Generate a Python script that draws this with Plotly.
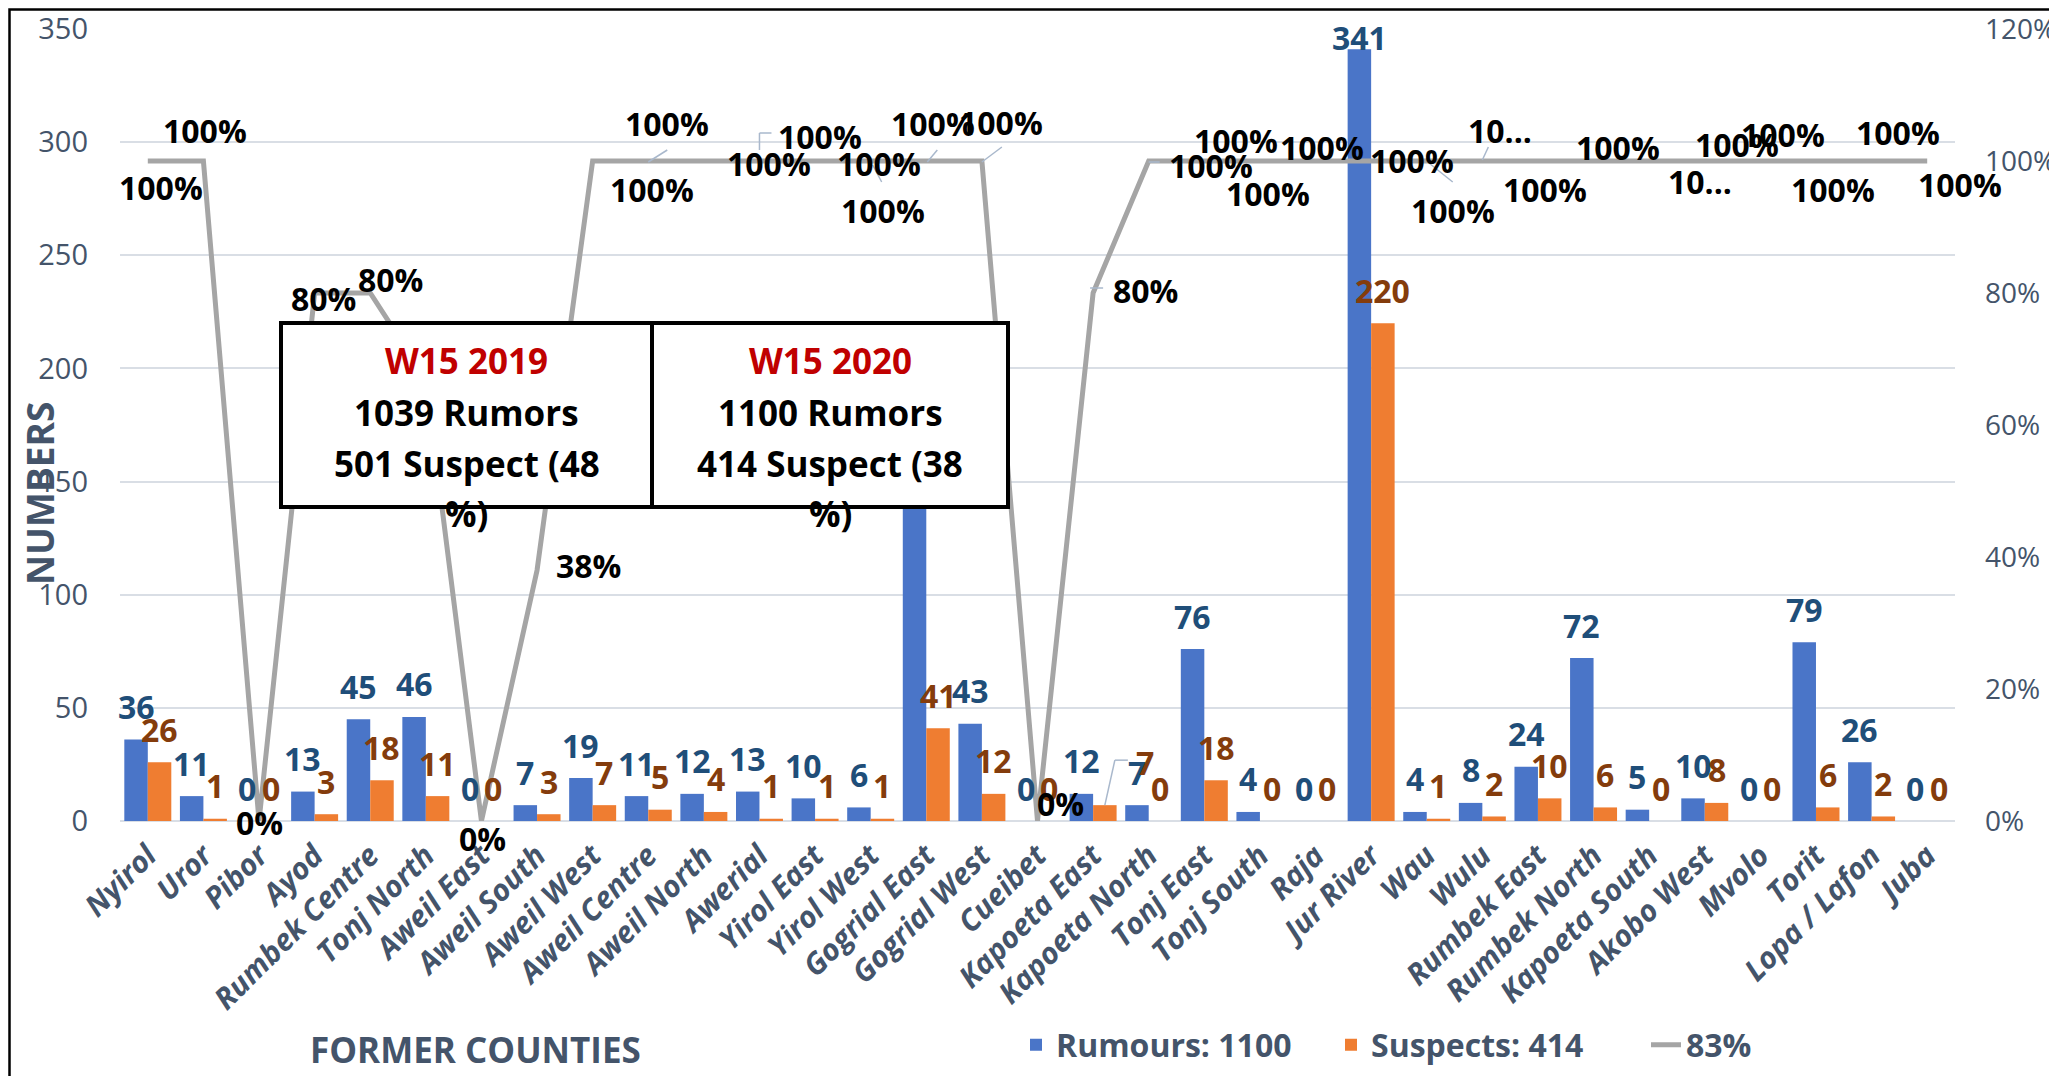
import plotly.graph_objects as go

# ---------------- data ----------------
counties = ["Nyirol", "Uror", "Pibor", "Ayod", "Rumbek Centre", "Tonj North", "Aweil East",
            "Aweil South", "Aweil West", "Aweil Centre", "Aweil North", "Awerial", "Yirol East",
            "Yirol West", "Gogrial East", "Gogrial West", "Cueibet", "Kapoeta East",
            "Kapoeta North", "Tonj East", "Tonj South", "Raja", "Jur River", "Wau", "Wulu",
            "Rumbek East", "Rumbek North", "Kapoeta South", "Akobo West", "Mvolo", "Torit",
            "Lopa / Lafon", "Juba"]
rumours = [36, 11, 0, 13, 45, 46, 0, 7, 19, 11, 12, 13, 10, 6, 160, 43, 0, 12, 7, 76, 4, 0,
           341, 4, 8, 24, 72, 5, 10, 0, 79, 26, 0]
suspects = [26, 1, 0, 3, 18, 11, 0, 3, 7, 5, 4, 1, 1, 1, 41, 12, 0, 7, 0, 18, 0, 0,
            220, 1, 2, 10, 6, 0, 8, 0, 6, 2, 0]
pct = [1.0, 1.0, 0.0, 0.8, 0.8, 0.67, 0.0, 0.38, 1.0, 1.0, 1.0, 1.0, 1.0, 1.0, 1.0, 1.0,
       0.0, 0.8, 1.0, 1.0, 1.0, 1.0, 1.0, 1.0, 1.0, 1.0, 1.0, 1.0, 1.0, 1.0, 1.0, 1.0, 1.0]
overall_pct = "83%"

left_ticks = [0, 50, 100, 150, 200, 250, 300, 350]
right_ticks = [0, 0.2, 0.4, 0.6, 0.8, 1.0, 1.2]

box_years = ["W15 2019", "W15 2020"]
box_rumors = [1039, 1100]
box_suspects = [501, 414]
box_suspect_pct = [48, 38]

# labels truncated in the original
truncated_line_labels = {"Wulu", "Kapoeta South"}

# ---------------- layout helpers ----------------
# the page body has an 8px margin: figure pixel = page pixel - 8
OFF = 8
FW, FH = 2049, 1068
PLOT_X0, PLOT_X1, PLOT_Y0, PLOT_Y1 = 120, 1955, 29, 821     # page pixels
L = PLOT_X0 - OFF
T = PLOT_Y0 - OFF
R = FW - (PLOT_X1 - OFF)
B = FH - (PLOT_Y1 - OFF)
PW, PH = PLOT_X1 - PLOT_X0, PLOT_Y1 - PLOT_Y0


def fx(px):
    return (px - PLOT_X0) / PW


def fy(py):
    return (PLOT_Y1 - py) / PH


FONT = "Open Sans"
SLATE = "#44546A"
LEADER = "#A9B8CC"
BAR_HALF = 11.75   # horizontal offset of each bar of a group from the category centre
BAR_LABEL_UP = 33

# moved bar labels: (series, county) -> (extra x shift, y shift)
bar_label_moves = {("rumours", "Jur River"): (0, 12), ("suspects", "Kapoeta East"): (40, 43)}

# pixel offsets of the line data labels (dx right, dy down)
line_label_offsets = [
    (13, 26), (2, -31), (0, 1), (9, 5), (20, -14), (0, 0), (1, 17), (51, -5),
    (59, 28), (19, -38), (65, 2), (61, -25), (64, 2), (12, 49), (7, -38), (19, -39),
    (23, -18), (52, -3), (62, 4), (32, -21), (8, 32), (6, -14), (41, -1), (26, 49),
    (18, -31), (7, 28), (24, -14), (51, 20), (32, -17), (23, -27), (17, 28), (26, -29),
    (33, 23)]

# leader lines of moved line labels: county -> list of segments in pixels (dx0, dy0, dx1, dy1)
line_leaders = {
    "Aweil Centre": [(0, 1, 19, -11)],
    "Awerial": [(0, -11, 0, -28), (0, -28, 12, -28)],
    "Yirol West": [(2, 4, 11, 21)],
    "Gogrial East": [(1, 1, 11, -11)],
    "Gogrial West": [(0, 1, 20, -14)],
    "Kapoeta East": [(-3, -5, 10, -5)],
    "Kapoeta North": [(0, 1, 11, 1)],
    "Wau": [(1, 1, 26, 21)],
    "Wulu": [(0, -1, 6, -14)],
}
bar_leaders = {("suspects", "Kapoeta East"): [(0, 0, 10, -45), (10, -45, 23, -45)]}

fig = go.Figure()

fig.add_trace(go.Bar(
    x=counties, y=rumours, name=f"Rumours: {sum(rumours)}",
    marker=dict(color="#4A75C8", line=dict(width=0)), yaxis="y"))
fig.add_trace(go.Bar(
    x=counties, y=suspects, name=f"Suspects: {sum(suspects)}",
    marker=dict(color="#EF7D31", line=dict(width=0)), yaxis="y"))
fig.add_trace(go.Scatter(
    x=counties, y=pct, name=overall_pct, mode="lines",
    line=dict(color="#A5A5A5", width=5),
    yaxis="y2", cliponaxis=False))

annotations = []
shapes = []


def leader(xval, yval, yref, base_dx, segs):
    for dx0, dy0, dx1, dy1 in segs:
        shapes.append(dict(
            type="line", xref="x", yref=yref, xsizemode="pixel", ysizemode="pixel",
            xanchor=xval, yanchor=yval, x0=base_dx + dx0, x1=base_dx + dx1,
            y0=-dy0, y1=-dy1, line=dict(color=LEADER, width=1.5), layer="above"))


# bar data labels
for key, vals, shift, col in (("rumours", rumours, -BAR_HALF, "#1F4E79"),
                              ("suspects", suspects, BAR_HALF, "#843C0C")):
    for c, v in zip(counties, vals):
        ex, up = bar_label_moves.get((key, c), (0, BAR_LABEL_UP))
        annotations.append(dict(
            x=c, y=v, xref="x", yref="y", xshift=shift + ex, yshift=up, text=str(v),
            showarrow=False, xanchor="center", yanchor="middle",
            font=dict(family=FONT, size=32, color=col, weight="bold")))
        if (key, c) in bar_leaders:
            leader(c, v, "y", shift, bar_leaders[(key, c)])

# line data labels
for c, v, (dx, dy) in zip(counties, pct, line_label_offsets):
    txt = f"{round(v * 100)}%"
    if c in truncated_line_labels:
        txt = txt[:2] + "..."
    annotations.append(dict(
        x=c, y=v, xref="x", yref="y2", xshift=dx, yshift=-dy, text=txt,
        showarrow=False, xanchor="center", yanchor="middle",
        font=dict(family=FONT, size=32, color="black", weight="bold")))
    if c in line_leaders:
        leader(c, v, "y2", 0, line_leaders[c])

# text boxes (drawn after the labels so that they cover what they cover in the original)
BW = 4
box_x = [(279, 654), (650, 1010)]
box_y = (321, 509)
line_y = [360, 412, 463, 513]
for (x0, x1) in box_x:
    annotations.append(dict(
        x=fx((x0 + x1) / 2), y=fy((box_y[0] + box_y[1]) / 2), xref="paper", yref="paper",
        text=" ", showarrow=False, xanchor="center", yanchor="middle",
        width=(x1 - x0) - 2 * BW, height=(box_y[1] - box_y[0]) - 2 * BW,
        bgcolor="white", bordercolor="black", borderwidth=BW, borderpad=0,
        font=dict(family=FONT, size=10)))
for (x0, x1), yr, nr, ns, sp in zip(box_x, box_years, box_rumors, box_suspects, box_suspect_pct):
    cx = fx((x0 + x1) / 2)
    lines = [(yr, "#C00000"), (f"{nr} Rumors", "black"), (f"{ns} Suspect ({sp}", "black"),
             ("%)", "black")]
    for (t, col), ly in zip(lines, line_y):
        annotations.append(dict(
            x=cx, y=fy(ly), xref="paper", yref="paper", text=t, showarrow=False,
            xanchor="center", yanchor="middle",
            font=dict(family=FONT, size=35, color=col, weight="bold")))

# axis titles
annotations.append(dict(x=fx(39), y=fy(494), xref="paper", yref="paper", text="NUMBERS",
                        textangle=-90, showarrow=False, xanchor="center", yanchor="middle",
                        font=dict(family=FONT, size=37, color=SLATE, weight="bold")))
annotations.append(dict(x=fx(475), y=fy(1049), xref="paper", yref="paper",
                        text="FORMER COUNTIES", showarrow=False, xanchor="center",
                        yanchor="middle",
                        font=dict(family=FONT, size=35, color=SLATE, weight="bold")))

# outer chart border (top and left edges visible)
shapes.append(dict(type="rect", xref="paper", yref="paper",
                   x0=fx(OFF + 1.5), x1=fx(2090), y0=fy(1110), y1=fy(OFF + 1.5),
                   line=dict(color="black", width=2.5), fillcolor="rgba(0,0,0,0)",
                   layer="below"))

fig.update_layout(
    width=FW, height=FH,
    margin=dict(l=L, r=R, t=T, b=B, autoexpand=False),
    paper_bgcolor="white", plot_bgcolor="white",
    barmode="group", bargap=0.155, bargroupgap=0,
    font=dict(family=FONT, color=SLATE),
    showlegend=True,
    legend=dict(orientation="h", x=fx(1016), y=fy(1045), xanchor="left", yanchor="middle",
                font=dict(family=FONT, size=32, color=SLATE, weight="bold"),
                bgcolor="rgba(0,0,0,0)", entrywidth=270, entrywidthmode="pixels",
                traceorder="normal"),
    xaxis=dict(type="category", range=[-0.5, len(counties) - 0.5], autorange=False,
               tickangle=-45, showgrid=False, showline=False,
               ticks="", automargin=False, ticklabelstandoff=10,
               tickfont=dict(family=FONT, size=30, color=SLATE, weight="bold",
                             style="italic")),
    yaxis=dict(range=[0, 350], tickvals=left_ticks, showgrid=True, gridcolor="#D9DEE5",
               gridwidth=2, zeroline=True, zerolinecolor="#D9DEE5", zerolinewidth=2,
               showline=False, ticks="", ticklabelstandoff=31, automargin=False,
               tickfont=dict(family=FONT, size=29, color=SLATE)),
    yaxis2=dict(range=[0, 1.2], tickvals=right_ticks, tickformat=".0%", overlaying="y",
                side="right", showgrid=False, zeroline=False, showline=False, ticks="",
                ticklabelstandoff=29, automargin=False,
                tickfont=dict(family=FONT, size=28, color=SLATE)),
    shapes=shapes,
    annotations=annotations,
)

fig.write_html("out.html")
